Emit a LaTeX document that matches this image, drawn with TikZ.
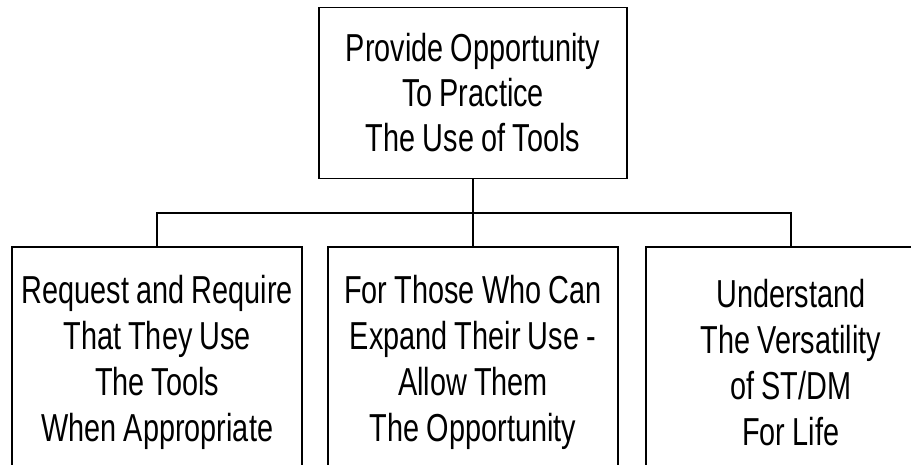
\documentclass[tikz,border=0pt]{standalone}
\usepackage{fontspec}
\setmainfont{Liberation Sans}[FakeStretch=0.74, WordSpace=0.9]
\usetikzlibrary{positioning,calc}

\begin{document}
\begin{tikzpicture}[x=1pt, y=1pt,
  node distance=69pt and 24pt,
  goalbox/.style={draw, line width=1.8pt, minimum width=308pt,
    minimum height=171pt, align=center,
    font=\fontsize{39}{45}\selectfont},
  taskbox/.style={draw, line width=1.8pt,
    minimum width=290pt, minimum height=230pt, inner sep=2pt,
    align=center, font=\fontsize{39}{46}\selectfont},
  link/.style={line width=1.8pt}
]
\path[use as bounding box, clip] (0,0) rectangle (911,465);
\node[goalbox] (goal) at (473,372) {Provide Opportunity\\To Practice\\The Use of Tools};
\node[taskbox, below=67pt of goal] (expand) {For Those Who Can\\Expand Their Use -\\Allow Them\\The Opportunity};
\node[taskbox, left=of expand] (require) {Request and Require\\That They Use\\The Tools\\When Appropriate};
\node[taskbox, right=26pt of expand] (versatile) {Understand\\The Versatility\\of ST/DM\\For Life};
\coordinate (bus) at ($(goal.south)!0.5!(expand.north)$);
\draw[link] (goal.south) -- (expand.north);
\draw[link] (require.north) |- (bus) -| (versatile.north);
\end{tikzpicture}
\end{document}
